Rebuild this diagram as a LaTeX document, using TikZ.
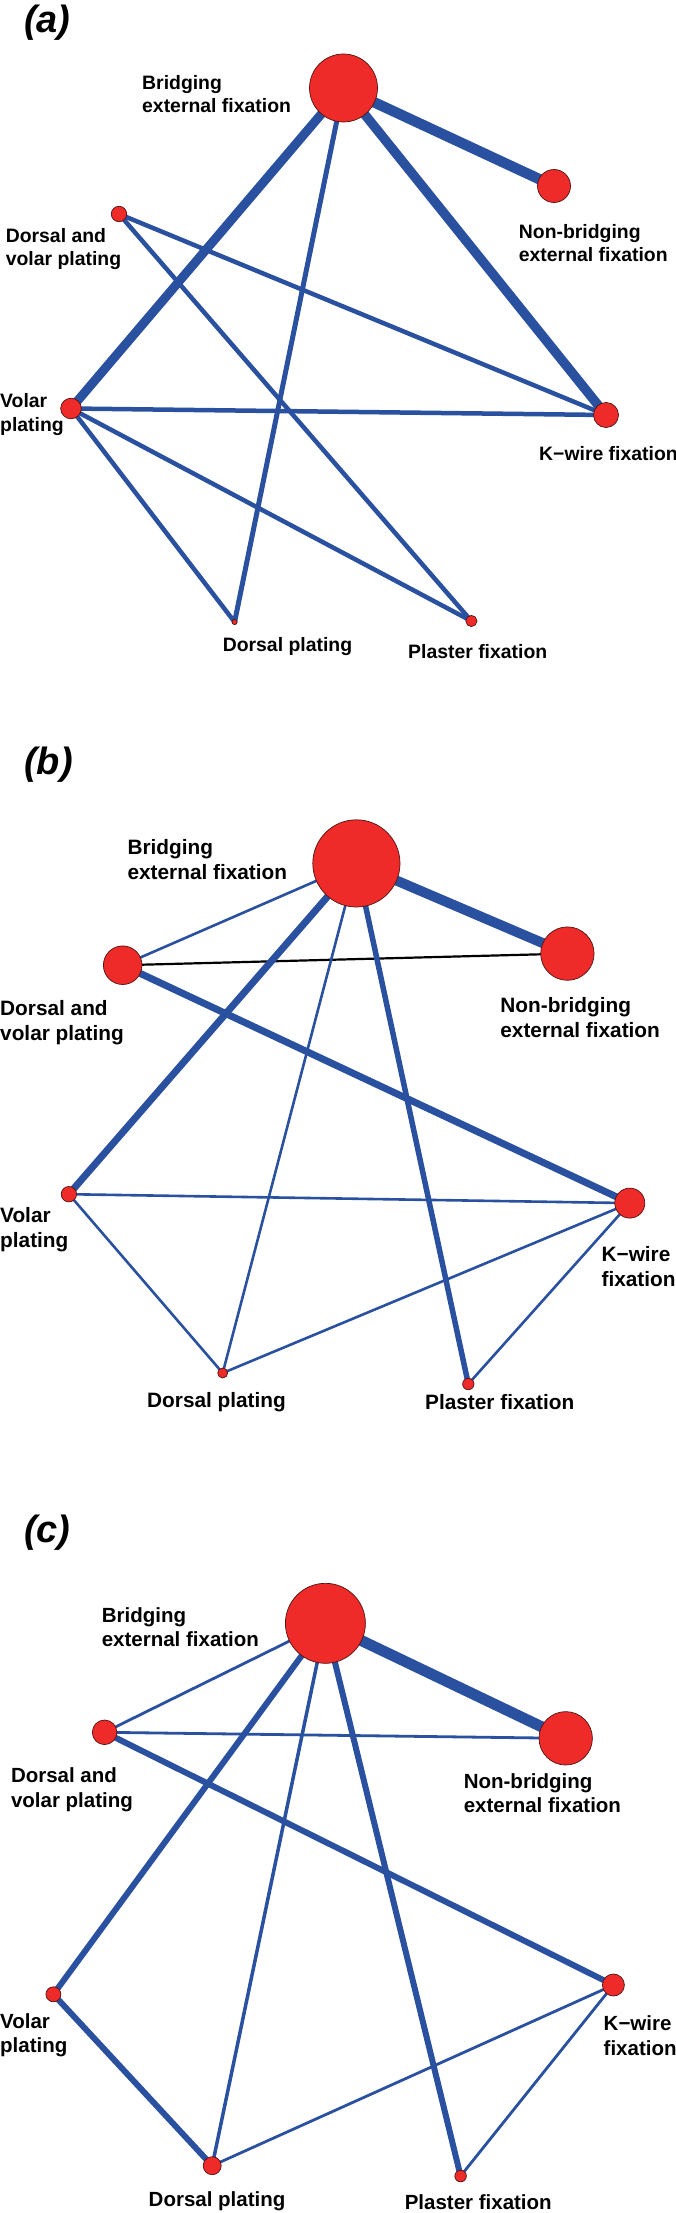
\documentclass[tikz,border=0pt]{standalone}
\usepackage{fontspec}
\setmainfont{Liberation Sans}
\usetikzlibrary{backgrounds}
\definecolor{netblue}{RGB}{42,80,160}
\definecolor{netred}{RGB}{238,43,41}
\definecolor{netrim}{RGB}{80,20,20}
\tikzset{
  trt/.style={circle,fill=netred,draw=netrim,line width=0.7pt,inner sep=0pt,minimum size=#1},
  lnk/.style={netblue,line width=#1},
  tag/.style={anchor=west,inner sep=0pt,font=\fontsize{38}{40}\selectfont\bfseries\itshape},
  lbla/.style={anchor=west,align=left,inner sep=0pt,font=\fontsize{19.4}{23.2}\selectfont\bfseries},
  lblb/.style={anchor=west,align=left,inner sep=0pt,font=\fontsize{20.8}{25}\selectfont\bfseries},
  lblc/.style={anchor=west,align=left,inner sep=0pt,font=\fontsize{20.5}{24.3}\selectfont\bfseries}
}
\begin{document}
\begin{tikzpicture}[x=1pt,y=-1pt]
\useasboundingbox (0,0) rectangle (675,2213);

% (a)
\node[tag] (ta) at (24,22.5) {(a)};
\node[trt=68] (aB) at (343.5,88) {};
\node[trt=33] (aNB) at (554,186) {};
\node[trt=15.4] (aDV) at (119,214) {};
\node[trt=20.6] (aV) at (71,408.5) {};
\node[trt=25] (aK) at (606,415) {};
\node[trt=5.2] (aDP) at (234.6,622) {};
\node[trt=11.2] (aP) at (471.4,621) {};
\node[lbla] (laB) at (142,94.2) {Bridging\\external fixation};
\node[lbla] (laNB) at (518.7,242.9) {Non-bridging\\external fixation};
\node[lbla] (laDV) at (5.6,248.9) {Dorsal and\\volar plating};
\node[lbla] (laV) at (0,414.5) {Volar\\plating};
\node[lbla] (laK) at (539,454) {K−wire fixation};
\node[lbla] (laDP) at (222.6,646.9) {Dorsal plating};
\node[lbla] (laP) at (408,651.3) {Plaster fixation};
\begin{scope}[on background layer]
\draw[lnk=10.5] (aB.center) -- (aNB.center);
\draw[lnk=9.5] (aB.center) -- (aK.center);
\draw[lnk=9] (aB.center) -- (aV.center);
\draw[lnk=5] (aB.center) -- (aDP.center);
\draw[lnk=4.5] (aDV.center) -- (aK.center);
\draw[lnk=4.5] (aDV.center) -- (aP.center);
\draw[lnk=4.5] (aV.center) -- (aK.center);
\draw[lnk=4.5] (aV.center) -- (aDP.center);
\draw[lnk=4.5] (aV.center) -- (aP.center);
\end{scope}

% (b)
\node[tag] (tb) at (24,765) {(b)};
\node[trt=87.2] (bB) at (356.4,863.4) {};
\node[trt=53.4] (bNB) at (567.4,953.6) {};
\node[trt=38.6] (bDV) at (122.7,965.2) {};
\node[trt=15.4] (bV) at (68.9,1194.2) {};
\node[trt=30] (bK) at (629.8,1203.1) {};
\node[trt=10] (bDP) at (222.7,1373) {};
\node[trt=11.4] (bP) at (468.3,1384) {};
\node[lblb] (lbB) at (127.4,860) {Bridging\\external fixation};
\node[lblb] (lbNB) at (500.2,1017.7) {Non-bridging\\external fixation};
\node[lblb] (lbDV) at (0,1022.4) {Dorsal and\\volar plating};
\node[lblb] (lbV) at (0,1229.7) {Volar\\plating};
\node[lblb] (lbK) at (601.4,1267) {K−wire\\fixation};
\node[lblb] (lbDP) at (147,1401.7) {Dorsal plating};
\node[lblb] (lbP) at (425,1401.7) {Plaster fixation};
\begin{scope}[on background layer]
\draw[lnk=10] (bB.center) -- (bNB.center);
\draw[lnk=2.6] (bB.center) -- (bDV.center);
\draw[black,line width=2.2] (bDV.center) -- (bNB.center);
\draw[lnk=7] (bDV.center) -- (bK.center);
\draw[lnk=7] (bB.center) -- (bV.center);
\draw[lnk=2.6] (bB.center) -- (bDP.center);
\draw[lnk=5.5] (bB.center) -- (bP.center);
\draw[lnk=2.6] (bV.center) -- (bK.center);
\draw[lnk=2.6] (bV.center) -- (bDP.center);
\draw[lnk=2.6] (bDP.center) -- (bK.center);
\draw[lnk=2.6] (bP.center) -- (bK.center);
\end{scope}

% (c)
\node[tag] (tc) at (24,1533) {(c)};
\node[trt=80] (cB) at (325.4,1623.3) {};
\node[trt=53.4] (cNB) at (565.7,1738.3) {};
\node[trt=24.6] (cDV) at (104.6,1732.3) {};
\node[trt=15] (cV) at (53.4,1994.3) {};
\node[trt=22] (cK) at (613.4,1985) {};
\node[trt=18] (cDP) at (212.2,2165.7) {};
\node[trt=11.6] (cP) at (460.6,2176) {};
\node[lblc] (lcB) at (101.6,1627.2) {Bridging\\external fixation};
\node[lblc] (lcNB) at (463.6,1793) {Non-bridging\\external fixation};
\node[lblc] (lcDV) at (10.8,1789.7) {Dorsal and\\volar plating};
\node[lblc] (lcV) at (0,2035.5) {Volar\\plating};
\node[lblc] (lcK) at (603.5,2035.5) {K−wire\\fixation};
\node[lblc] (lcDP) at (148.5,2201.7) {Dorsal plating};
\node[lblc] (lcP) at (404.6,2201.7) {Plaster fixation};
\begin{scope}[on background layer]
\draw[lnk=11] (cB.center) -- (cNB.center);
\draw[lnk=2.8] (cB.center) -- (cDV.center);
\draw[lnk=2.8] (cDV.center) -- (cNB.center);
\draw[lnk=6] (cDV.center) -- (cK.center);
\draw[lnk=6] (cB.center) -- (cV.center);
\draw[lnk=3.5] (cB.center) -- (cDP.center);
\draw[lnk=6] (cB.center) -- (cP.center);
\draw[lnk=6] (cV.center) -- (cDP.center);
\draw[lnk=2.8] (cDP.center) -- (cK.center);
\draw[lnk=2.8] (cP.center) -- (cK.center);
\end{scope}
\end{tikzpicture}
\end{document}
